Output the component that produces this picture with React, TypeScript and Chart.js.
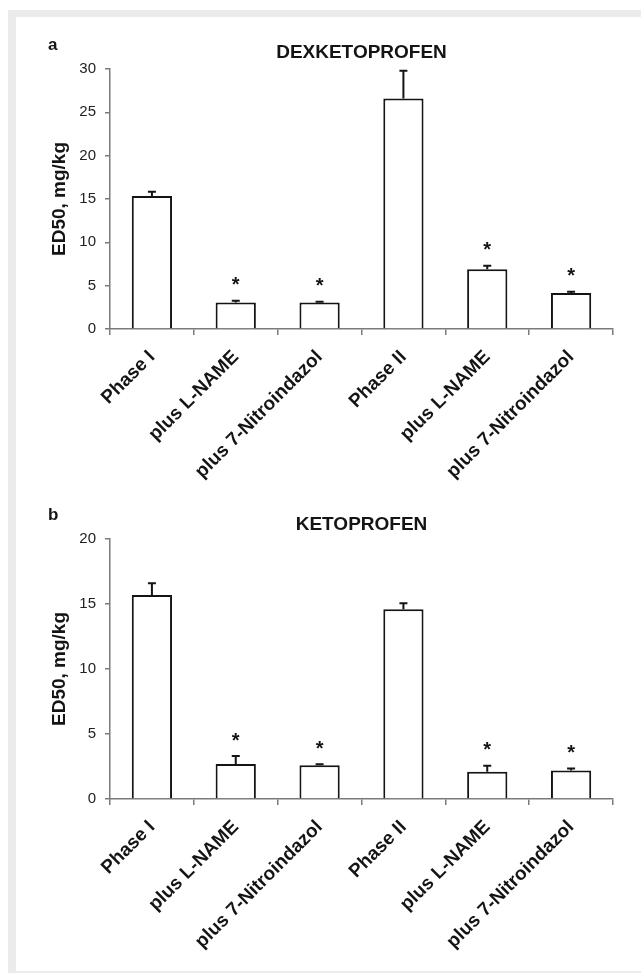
import React, { useEffect, useRef } from 'react';
import { Chart, registerables } from 'chart.js';

Chart.register(...registerables);

const categories = ['Phase I', 'plus L-NAME', 'plus 7-Nitroindazol', 'Phase II', 'plus L-NAME', 'plus 7-Nitroindazol'];

const dexValues = [15.35, 3.05, 3.05, 26.6, 6.9, 4.15];
const dexErrors = [0.5, 0.2, 0.1, 3.2, 0.4, 0.15];
const dexTicks = [0, 5, 10, 15, 20, 25, 30];

const ketoValues = [15.7, 2.7, 2.6, 14.6, 2.1, 2.2];
const ketoErrors = [0.9, 0.6, 0.08, 0.45, 0.45, 0.15];
const ketoTicks = [0, 5, 10, 15, 20];

const significant = [false, true, true, false, true, true];

const FONT = "'Liberation Sans', Arial, Helvetica, sans-serif";
const AXIS_COLOR = '#7a7a7a';
const INK = '#141414';

const overlayPlugin = {
  id: 'overlay',
  afterDatasetsDraw(chart: any, _args: any, opts: any) {
    const { ctx, chartArea } = chart;
    const yScale = chart.scales.y;
    const meta = chart.getDatasetMeta(0);
    const values: number[] = opts.values;
    const errors: number[] = opts.errors;
    const sig: boolean[] = opts.sig;
    ctx.save();
    ctx.strokeStyle = INK;
    ctx.fillStyle = INK;
    ctx.lineWidth = 2;
    meta.data.forEach((bar: any, i: number) => {
      const yV = yScale.getPixelForValue(values[i]);
      const yT = yScale.getPixelForValue(values[i] + errors[i]);
      ctx.beginPath();
      ctx.moveTo(bar.x, yV);
      ctx.lineTo(bar.x, yT);
      ctx.moveTo(bar.x - 4, yT);
      ctx.lineTo(bar.x + 4, yT);
      ctx.stroke();
      if (sig[i]) {
        ctx.font = `bold 20px ${FONT}`;
        ctx.textAlign = 'center';
        ctx.textBaseline = 'alphabetic';
        ctx.fillText('*', bar.x, yT - 9.5);
      }
    });
    // panel letter
    ctx.font = `bold 17px ${FONT}`;
    ctx.textAlign = 'left';
    ctx.textBaseline = 'middle';
    ctx.fillText(opts.letter, 32, 28);
    // title
    ctx.font = `bold 19px ${FONT}`;
    ctx.textAlign = 'center';
    ctx.fillText(opts.title, (chartArea.left + chartArea.right) / 2, opts.titleY);
    // y axis title
    ctx.translate(44, (chartArea.top + chartArea.bottom) / 2);
    ctx.rotate(-Math.PI / 2);
    ctx.font = `bold 19px ${FONT}`;
    ctx.textAlign = 'center';
    ctx.textBaseline = 'middle';
    ctx.fillText('ED50, mg/kg', 0, 0);
    ctx.restore();
  },
};

type PanelProps = {
  values: number[];
  errors: number[];
  ticks: number[];
  letter: string;
  title: string;
  titleY: number;
  height: number;
  xHeight: number;
};

function Panel(p: PanelProps) {
  const ref = useRef<HTMLCanvasElement>(null);
  useEffect(() => {
    if (!ref.current) return;
    const chart = new Chart(ref.current, {
      type: 'bar',
      data: {
        labels: categories,
        datasets: [
          {
            data: p.values,
            backgroundColor: '#ffffff',
            borderColor: INK,
            borderWidth: 2,
            categoryPercentage: 1,
            barPercentage: 0.48,
          },
        ],
      },
      plugins: [overlayPlugin],
      options: {
        responsive: false,
        animation: false,
        layout: { padding: { left: 0, right: 28, top: 52, bottom: 0 } },
        plugins: {
          legend: { display: false },
          tooltip: { enabled: false },
          title: { display: false },
          overlay: {
            values: p.values,
            errors: p.errors,
            sig: significant,
            letter: p.letter,
            title: p.title,
            titleY: p.titleY,
          },
        } as any,
        scales: {
          x: {
            offset: true,
            afterFit: (s: any) => {
              s.height = p.xHeight;
            },
            grid: {
              offset: true,
              drawOnChartArea: false,
              drawTicks: true,
              tickLength: 6,
              color: (c: any) => (c.index === categories.length ? 'rgba(0,0,0,0)' : AXIS_COLOR),
              lineWidth: 1.5,
            },
            border: { display: true, color: AXIS_COLOR, width: 1.5 },
            ticks: {
              autoSkip: false,
              minRotation: 45,
              maxRotation: 45,
              padding: 11,
              color: INK,
              font: { family: FONT, size: 19, weight: 'bold' },
            },
          },
          y: {
            min: p.ticks[0],
            max: p.ticks[p.ticks.length - 1],
            afterFit: (s: any) => {
              s.width = 94;
            },
            afterBuildTicks: (s: any) => {
              s.ticks = p.ticks.map((v) => ({ value: v }));
            },
            grid: {
              drawOnChartArea: false,
              drawTicks: true,
              tickLength: 5,
              color: AXIS_COLOR,
              lineWidth: 1.5,
            },
            border: { display: true, color: AXIS_COLOR, width: 1.5 },
            ticks: {
              padding: 9,
              color: '#222',
              font: { family: FONT, size: 15 },
            },
          },
        },
      },
    });
    return () => chart.destroy();
  }, []);
  return <canvas ref={ref} width={625} height={p.height} style={{ display: 'block', width: 625, height: p.height }} />;
}

export default function App() {
  useEffect(() => {
    document.body.style.margin = '0';
    document.body.style.background = '#ffffff';
  }, []);
  return (
    <div style={{ position: 'relative', width: 641, height: 973, overflow: 'hidden', background: '#fff' }}>
      <div style={{ position: 'absolute', left: 8, top: 10, width: 633, height: 963, background: '#ebebeb' }} />
      <div style={{ position: 'absolute', left: 16, top: 17, width: 625, height: 954, background: '#ffffff' }}>
        <Panel values={dexValues} errors={dexErrors} ticks={dexTicks} letter="a" title="DEXKETOPROFEN" titleY={36} height={470} xHeight={158} />
        <Panel values={ketoValues} errors={ketoErrors} ticks={ketoTicks} letter="b" title="KETOPROFEN" titleY={38} height={484} xHeight={172} />
      </div>
    </div>
  );
}
